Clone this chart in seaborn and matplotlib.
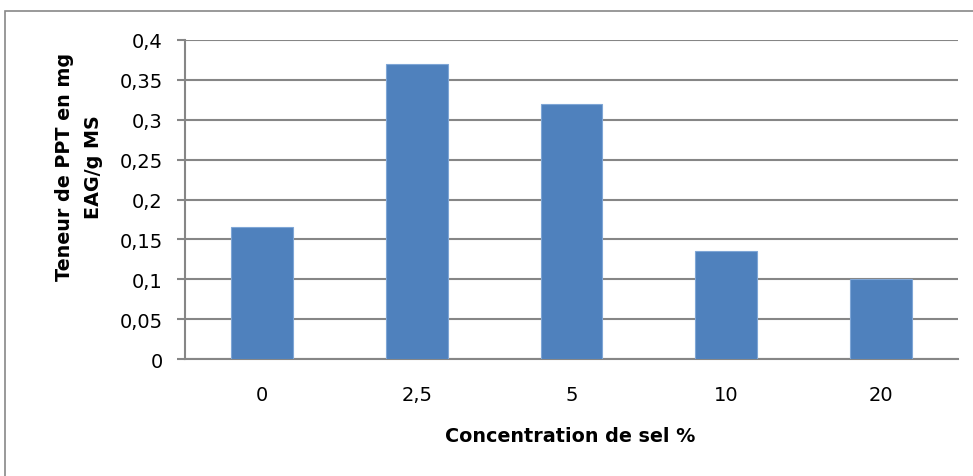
import matplotlib
matplotlib.use("Agg")
import matplotlib.pyplot as plt
from matplotlib.patches import Rectangle
from matplotlib.ticker import FuncFormatter, MultipleLocator
import seaborn as sns
import pandas as pd

concentrations = ["0", "2,5", "5", "10", "20"]
teneur_ppt = [0.165, 0.37, 0.32, 0.135, 0.10]
y_label = "Teneur de PPT en mg\nEAG/g MS"
x_label = "Concentration de sel %"

sns.set_theme(style="white")
plt.rcParams["font.family"] = ["DejaVu Sans"]

df = pd.DataFrame({"conc": concentrations, "val": teneur_ppt})

W, H = 973, 477
fig = plt.figure(figsize=(W / 100, H / 100), dpi=100)
ax = fig.add_axes([185 / W, 1 - 360 / H, (958 - 185) / W, (360 - 41) / H])

sns.barplot(data=df, x="conc", y="val", order=concentrations, color="#4F81BD",
            saturation=1, width=0.4, edgecolor="#7FA6D6", linewidth=0.8, ax=ax, zorder=3)

ax.set_ylim(0, 0.4)
ax.set_xlim(-0.5, len(concentrations) - 0.5)
ax.yaxis.set_major_locator(MultipleLocator(0.05))
ax.yaxis.set_major_formatter(FuncFormatter(lambda v, _: f"{v:g}".replace(".", ",")))
ax.grid(axis="y", color="#868686", linewidth=1.5, zorder=0)
ax.grid(axis="x", visible=False)

for side in ("top", "right"):
    ax.spines[side].set_visible(False)
for side in ("left", "bottom"):
    ax.spines[side].set_color("#868686")
    ax.spines[side].set_linewidth(1.5)

ax.tick_params(axis="y", which="major", left=True, length=6, width=1.5, color="#868686",
               labelsize=14, labelcolor="black", pad=10)
ax.tick_params(axis="x", bottom=False, labelsize=14, labelcolor="black", pad=13)

ax.set_xlabel("")
ax.set_ylabel("")
fig.text(570 / W, 1 - 437 / H, x_label, ha="center", va="center",
         fontsize=13.8, fontweight="bold", color="black")
fig.text(79 / W, 1 - 167 / H, y_label, ha="center", va="center", rotation=90,
         fontsize=13.8, fontweight="bold", color="black", linespacing=1.65)

# outer chart frame
fig.patches.append(Rectangle((4.5 / W, -0.2), 2, 1.2 - 11.5 / H, transform=fig.transFigure,
                             fill=False, edgecolor="#888888", linewidth=1.2))

fig.savefig("out.png", dpi=100, facecolor="white")
